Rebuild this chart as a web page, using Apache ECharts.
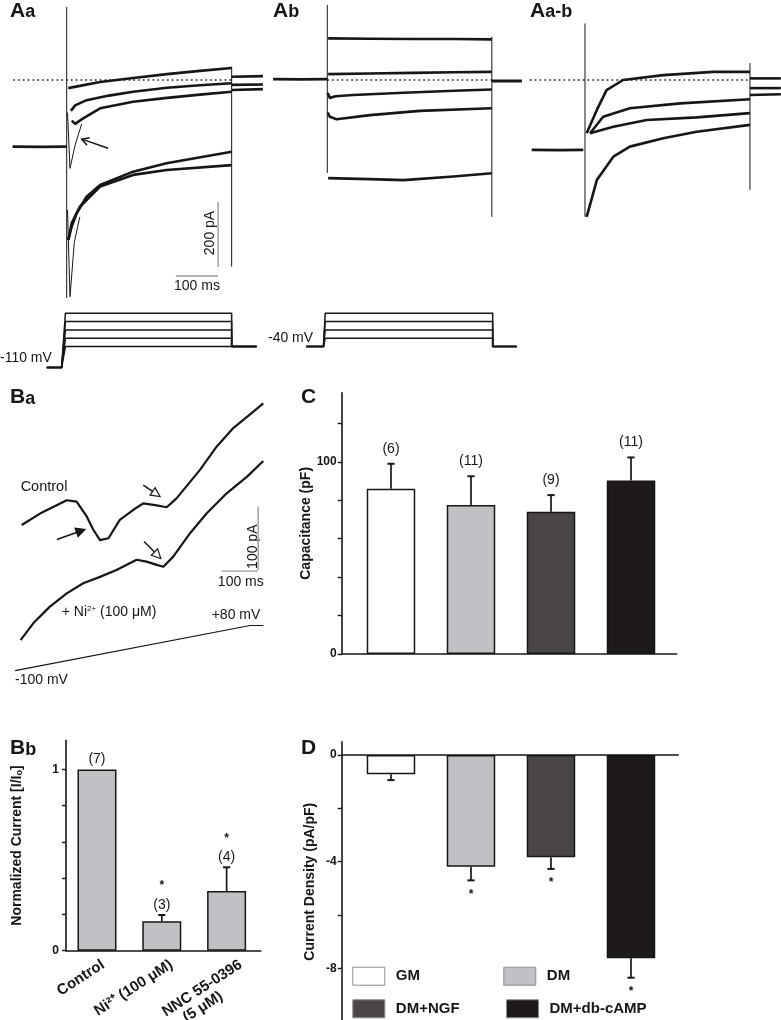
<!DOCTYPE html>
<html><head><meta charset="utf-8">
<script src="https://cdn.jsdelivr.net/npm/echarts@6.0.0/dist/echarts.min.js"></script>
<style>html,body{margin:0;padding:0;background:#fff}#c{width:781px;height:1020px}</style>
</head><body><div id="c"></div>
<script>
// ---------------- DATA ----------------
// Panel Aa: time (ms from step onset), current (pA, 0 = dotted line)
const aaBaseline = [[-128,-205],[-60,-206],[0,-205]];
const aaTrace1 = [[3.8,-25],[31,-18],[79,-6],[157,6],[237,18],[315,28],[390,37]];
const aaTrace2 = [[10,-95],[20,-78],[47,-62],[100,-48],[157,-36],[237,-24],[315,-16],[390,-10]];
const aaTrace3 = [[12,-125],[20,-135],[39,-118],[79,-87],[157,-67],[237,-55],[315,-45],[390,-36]];
const aaTransient = [[2,-100],[7.8,-272],[20,-200],[35.5,-135]];
const aaTrace4 = [[3.8,-492],[12,-450],[23.6,-410],[47,-359],[79,-323],[157,-282],[236,-256],[390,-221]];
const aaTrace5 = [[3.8,-492],[12,-440],[31,-390],[79,-328],[157,-292],[236,-277],[390,-262]];
const aaDeep = [[2,-400],[7.8,-667],[18,-500],[31,-421]];
const aaOnSpike = [[0,225],[0,-671]];
const aaOffSpike = [[390,41],[390,-574]];
const aaTailA = [[390,10],[464,12]];
const aaTailB = [[390,-15],[464,-14]];
const aaTailC = [[390,-31],[464,-28]];
const aaZero = [[-126,0],[390,0]];
const aaScaleV = [[358,-375],[358,-575]];   // 200 pA
const aaScaleH = [[258,-603],[358,-603]];   // 100 ms
const aaArrows = [[98,-210,35.5,-182,0]];
// Aa protocol (mV)
const aaHold = -110;
const aaSteps = [-60,-40,-20,0,20];
const aaReturn = -60;
const aaProtoTimes = [-47,-12,-3,390,449];

// Panel Ab
const abBaseline = [[-128,3],[-60,2],[0,3]];
const abTrace1 = [[2,128],[100,127],[200,126],[300,126],[389,125]];
const abTrace2 = [[2,18],[100,20],[200,22],[300,24],[389,25]];
const abTrace3 = [[1,-40],[6,-55],[20,-50],[61,-46],[180,-39],[300,-33],[389,-29]];
const abTrace4 = [[1,-100],[6,-113],[22,-121],[101,-108],[219,-95],[389,-87]];
const abTrace5 = [[2,-302],[100,-305],[180,-308],[298,-297],[389,-287]];
const abOnSpike = [[0,231],[0,-286]];
const abOffSpike = [[389,133],[389,-421]];
const abTail = [[389,-3],[460,-3]];
const abZero = [[0,0],[389,0]];
// Ab protocol (mV)
const abHold = -40;
const abSteps = [-20,0,20,40];
const abProtoTimes = [-50,-9,-5,391,448];

// Panel Aa-b (difference)
const dfBaseline = [[-126,-215],[-60,-216],[-4,-215]];
const dfTrace1 = [[4,-164],[28,-92],[51,-31],[90,0],[185,15],[303,25],[390,25]];
const dfTrace2 = [[12,-164],[43,-113],[106,-87],[225,-72],[390,-59]];
const dfTrace3 = [[12,-164],[67,-144],[146,-123],[264,-115],[390,-102]];
const dfTrace4 = [[4,-421],[28,-308],[67,-236],[106,-205],[185,-179],[264,-159],[390,-138]];
const dfOnSpike = [[0,174],[0,-421]];
const dfOffSpike = [[390,52],[390,-338]];
const dfTailA = [[390,5],[463,5]];
const dfTailB = [[390,-25],[463,-25]];
const dfTailC = [[390,-46],[463,-44]];
const dfZero = [[-130,0],[390,0]];

// Panel Ba: time (ms), current (pA, arbitrary offset)
const baControl = [[32,271],[82,289],[155,310],[182,308],[210,284],[228,263],[246,247],[269,250],[300,279],[337,295],[364,305],[401,302],[428,299],[455,313],[519,358],[565,395],[610,424],[665,450],[692,463]];
const baNickel = [[29,89],[64,116],[109,142],[155,163],[200,179],[246,189],[291,200],[346,216],[373,213],[401,208],[419,205],[446,221],[492,258],[537,289],[592,321],[647,347],[692,372]];
const baRamp = [[14,-100],[656,80],[692,80]];   // mV
const baScaleV = [[678,300],[678,200]];   // 100 pA
const baScaleH = [[578,198],[678,198]];   // 100 ms
const baArrows = [[128,248,205,264,1],[364,334,410,316,2],[366,245,412,218,2]];

// Panel C / D groups
const groups = ['GM','DM','DM+NGF','DM+db-cAMP'];
const groupColors = ['#ffffff','#c1c1c5','#4a4648','#1e1a19'];
const capMean = [86, 77.5, 74, 90.3];
const capSem = [13, 15, 8.7, 12];
const capN = [6, 11, 9, 11];
const capTicks = [0,20,40,60,80,100,120];
const capLabels = [0,100];
const densMean = [-0.72, -4.19, -3.83, -7.62];
const densSem = [0.22, 0.51, 0.44, 0.73];
const densSig = [0, 1, 1, 1];
const densTicks = [-10,-8,-6,-4,-2,0];
const densLabels = [-8,-4,0];

// Panel Bb
const bbCats = ['Control','Ni\u00b2\u207a (100 \u03bcM)','NNC 55-0396\n(5 \u03bcM)        '];
const bbMean = [1.0, 0.162, 0.329];
const bbSem = [0, 0.035, 0.131];
const bbN = [7, 3, 4];
const bbSig = [0, 1, 1];
const bbTicks = [0,0.2,0.4,0.6,0.8,1];
const bbLabels = [0,1];

// ---------------- BUILD ----------------
const INK = '#161616';
const GREY = '#9a9a9a';
const FONT = '"Liberation Sans", Arial, Helvetica, sans-serif';

const grids = [
  {left:11.7, top:2, width:253.8, height:299},      //0 Aa
  {left:272.3, top:2, width:253.8, height:299},     //1 Ab
  {left:530, top:2, width:253.8, height:299},       //2 Aa-b
  {left:11.7, top:309.1, width:253.8, height:62.5}, //3 Aa protocol
  {left:272.3, top:309.1, width:253.8, height:41.67}, //4 Ab protocol
  {left:10, top:380, width:256.2, height:316.5},    //5 Ba
  {left:10, top:623, width:256.2, height:50.2},     //6 Ba ramp
  {left:341.7, top:392.7, width:335, height:261.3}, //7 C
  {left:66, top:740.4, width:194.7, height:210.3},  //8 Bb
  {left:341.7, top:741.7, width:336.6, height:280}  //9 D
].map(g => Object.assign(g, {containLabel:false, outerBoundsMode:'none'}));

const xAxes = [], yAxes = [];
function hidden(i, xr, yr) {
  xAxes.push({gridIndex:i, type:'value', min:xr[0], max:xr[1], show:false});
  yAxes.push({gridIndex:i, type:'value', min:yr[0], max:yr[1], show:false});
}
hidden(0, [-130,470], [-680,240]);
hidden(1, [-130,470], [-680,240]);
hidden(2, [-130,470], [-680,240]);
hidden(3, [-130,470], [-120,30]);
hidden(4, [-130,470], [-50,50]);
hidden(5, [0,700], [0,500]);
hidden(6, [0,700], [-110,90]);

const axLine = {show:true, onZero:false, lineStyle:{color:INK, width:1.6}};
const tickLab = {fontFamily:FONT, fontWeight:'bold', fontSize:12, color:INK};
const nameStyle = {fontFamily:FONT, fontWeight:'bold', fontSize:14, color:INK};

// C axes
xAxes.push({gridIndex:7, type:'value', min:-0.616, max:3.571, axisLine:axLine,
  axisTick:{show:false}, axisLabel:{show:false}, splitLine:{show:false}});
yAxes.push({gridIndex:7, type:'value', min:0, max:136, axisLine:axLine,
  axisTick:{show:true, customValues:capTicks, length:4, lineStyle:{color:INK, width:1.4}},
  axisLabel:Object.assign({show:true, customValues:capLabels, margin:5}, tickLab), splitLine:{show:false},
  name:'Capacitance (pF)', nameLocation:'middle', nameGap:28, nameTextStyle:nameStyle});
// Bb axes (labels anchored slightly right of each bar, as in the figure)
xAxes.push({gridIndex:8, type:'value', min:-0.478, max:2.526, axisLine:axLine,
  axisTick:{show:false}, splitLine:{show:false},
  axisLabel:{show:true, customValues:[0.03,1.08,2.15], formatter:v => bbCats[Math.round(v)], rotate:33, margin:6,
    verticalAlign:'top', align:'right',
    fontFamily:FONT, fontWeight:'bold', fontSize:15, color:INK, lineHeight:16}});
yAxes.push({gridIndex:8, type:'value', min:0, max:1.16, axisLine:axLine,
  axisTick:{show:true, customValues:bbTicks, length:4, lineStyle:{color:INK, width:1.4}},
  axisLabel:Object.assign({show:true, customValues:bbLabels, margin:7}, tickLab), splitLine:{show:false},
  name:'Normalized Current [I/I{sub|o}]', nameLocation:'middle', nameGap:42,
  nameTextStyle:Object.assign({rich:{sub:{fontFamily:FONT, fontWeight:'bold', fontSize:9, color:INK, verticalAlign:'bottom'}}}, nameStyle)});
// D axes
xAxes.push({gridIndex:9, type:'value', min:-0.616, max:3.5915, axisLine:{show:true, onZero:true, lineStyle:{color:INK, width:1.6}},
  axisTick:{show:false}, axisLabel:{show:false}, splitLine:{show:false}});
yAxes.push({gridIndex:9, type:'value', min:-10, max:0.5, axisLine:axLine,
  axisTick:{show:true, customValues:densTicks, length:4, lineStyle:{color:INK, width:1.4}},
  axisLabel:Object.assign({show:true, customValues:densLabels, margin:5}, tickLab), splitLine:{show:false},
  name:'Current Density (pA/pF)', nameLocation:'middle', nameGap:25, nameTextStyle:nameStyle});

const series = [];
function line(grid, data, width, opts) {
  opts = opts || {};
  series.push({type:'line', xAxisIndex:grid, yAxisIndex:grid, data:data, symbol:'none', showSymbol:false,
    silent:true, animation:false, clip:false, z:opts.z || 3,
    lineStyle:Object.assign({color:opts.color || INK, width:width, cap:'butt', join:'round'}, opts.style || {})});
}
// Aa
line(0, aaBaseline, 2.8);
[aaTrace1, aaTrace2, aaTrace3, aaTrace4, aaTrace5].forEach(d => line(0, d, 2.6));
line(0, aaTransient, 1); line(0, aaDeep, 1);
line(0, aaOnSpike, 1); line(0, aaOffSpike, 1);
[aaTailA, aaTailB, aaTailC].forEach(d => line(0, d, 2.6));
line(0, aaZero, 1.6, {style:{type:[1.6,3.2]}});
line(0, aaScaleV, 1.4, {color:GREY}); line(0, aaScaleH, 1.4, {color:GREY});
// Ab
line(1, abBaseline, 2.8);
[abTrace1, abTrace2, abTrace3, abTrace4, abTrace5].forEach(d => line(1, d, 2.6));
line(1, abOnSpike, 1); line(1, abOffSpike, 1);
line(1, abTail, 2.8);
line(1, abZero, 1.6, {style:{type:[1.6,3.2]}});
// Aa-b
line(2, dfBaseline, 2.8);
[dfTrace1, dfTrace2, dfTrace3, dfTrace4].forEach(d => line(2, d, 2.6));
line(2, dfOnSpike, 1); line(2, dfOffSpike, 1);
[dfTailA, dfTailB, dfTailC].forEach(d => line(2, d, 2.6));
line(2, dfZero, 1.6, {style:{type:[1.6,3.2]}});
// Protocols
aaSteps.forEach(lv => line(3, [[aaProtoTimes[0],aaHold],[aaProtoTimes[1],aaHold],[aaProtoTimes[2],lv],[aaProtoTimes[3],lv],[aaProtoTimes[3],aaReturn],[aaProtoTimes[4],aaReturn]], 1.5));
abSteps.forEach(lv => line(4, [[abProtoTimes[0],abHold],[abProtoTimes[1],abHold],[abProtoTimes[2],lv],[abProtoTimes[3],lv],[abProtoTimes[3],abHold],[abProtoTimes[4],abHold]], 1.5));
// Ba
line(5, baControl, 2.2); line(5, baNickel, 2.2);
line(5, baScaleV, 1.4, {color:GREY}); line(5, baScaleH, 1.4, {color:GREY});
line(6, baRamp, 1.2);

// arrows
function arrows(grid, data) {
  series.push({type:'custom', xAxisIndex:grid, yAxisIndex:grid, data:data, silent:true, animation:false, clip:false, z:6,
    encode:{x:[0,2], y:[1,3]},
    renderItem:function(params, api) {
      const a = api.coord([api.value(0), api.value(1)]);
      const b = api.coord([api.value(2), api.value(3)]);
      const kind = api.value(4);
      const dx = b[0]-a[0], dy = b[1]-a[1], L = Math.hypot(dx, dy), ux = dx/L, uy = dy/L, px = -uy, py = ux;
      const hl = kind === 0 ? 7 : 9, hw = kind === 0 ? 4 : 4.5;
      const base = [b[0]-ux*hl, b[1]-uy*hl];
      const l = [base[0]+px*hw, base[1]+py*hw], r = [base[0]-px*hw, base[1]-py*hw];
      const ch = [];
      if (kind === 0) {
        ch.push({type:'line', shape:{x1:a[0], y1:a[1], x2:b[0], y2:b[1]}, style:{stroke:INK, lineWidth:1.5}});
        ch.push({type:'polyline', shape:{points:[l, b, r]}, style:{stroke:INK, lineWidth:1.5, fill:null}});
      } else {
        ch.push({type:'line', shape:{x1:a[0], y1:a[1], x2:base[0], y2:base[1]}, style:{stroke:INK, lineWidth:1.5}});
        ch.push({type:'polygon', shape:{points:[l, b, r]}, style:{stroke:INK, lineWidth:1.2, fill:kind === 1 ? INK : '#ffffff'}});
      }
      return {type:'group', children:ch};
    }});
}
arrows(0, aaArrows);
arrows(5, baArrows);

// bars
series.push({type:'bar', name:'Capacitance', xAxisIndex:7, yAxisIndex:7, barWidth:48.5, silent:true, animation:false,
  data: capMean.map((m, i) => ({value:[i, m], itemStyle:{color:groupColors[i]}})),
  itemStyle:{borderColor:INK, borderWidth:1.5}});
groups.forEach((g, i) => {
  series.push({type:'bar', name:g, xAxisIndex:9, yAxisIndex:9, barWidth:48.5, barGap:'-100%', silent:true, animation:false,
    data:[[i, densMean[i]]], itemStyle:{color:groupColors[i], borderColor:INK, borderWidth:1.5}});
});
series.push({type:'bar', name:'Normalized', xAxisIndex:8, yAxisIndex:8, barWidth:39, silent:true, animation:false,
  data: bbMean.map((m, i) => [i, m]), itemStyle:{color:'#c1c1c5', borderColor:INK, borderWidth:1.5}});

// error bars + annotations
function errors(grid, rows, opts) {
  series.push({type:'custom', xAxisIndex:grid, yAxisIndex:grid, data:rows, silent:true, animation:false, clip:false, z:6,
    renderItem:function(params, api) {
      const x = api.value(0), m = api.value(1), e = api.value(2), n = api.value(3), sig = api.value(4);
      const s = m >= 0 ? 1 : -1;
      const p0 = api.coord([x, m]), p1 = api.coord([x, m + s*e]);
      const ch = [];
      if (e > 0) {
        ch.push({type:'line', shape:{x1:p0[0], y1:p0[1], x2:p1[0], y2:p1[1]}, style:{stroke:INK, lineWidth:1.7}});
        ch.push({type:'line', shape:{x1:p1[0]-3.6, y1:p1[1], x2:p1[0]+3.6, y2:p1[1]}, style:{stroke:INK, lineWidth:2}});
      }
      if (opts.nGap) ch.push({type:'text', x:p1[0], y:p1[1]-s*opts.nGap,
        style:{text:'(' + n + ')', align:'center', verticalAlign:'middle', textAlign:'center', textVerticalAlign:'middle',
          fontFamily:FONT, fontSize:14, fill:INK}});
      if (sig) ch.push({type:'text', x:p1[0], y:p1[1]-s*opts.starGap + 3,
        style:{text:'*', align:'center', verticalAlign:'middle', textAlign:'center', textVerticalAlign:'middle',
          fontFamily:FONT, fontSize:12, fontWeight:'bold', fill:INK}});
      return {type:'group', children:ch};
    }});
}
errors(7, capMean.map((m, i) => [i, m, capSem[i], capN[i], 0]), {nGap:15});
errors(8, bbMean.map((m, i) => [i, m, bbSem[i], bbN[i], bbSig[i]]), {nGap:10, starGap:32});
errors(9, densMean.map((m, i) => [i, m, densSem[i], 0, densSig[i]]), {nGap:0, starGap:11});

// legends for D
const legBase = {orient:'horizontal', padding:0, itemWidth:32, itemHeight:18, icon:'rect', selectedMode:false,
  itemStyle:{borderColor:'#8c8c8c', borderWidth:1},
  textStyle:{fontFamily:FONT, fontWeight:'bold', fontSize:15, color:INK, padding:[0,0,0,6]}};
const legPos = [[352.3,966.7],[503.3,966.7],[352.3,999.3],[506,999.3]];
const legend = groups.map((g, i) => Object.assign({}, legBase, {data:[g], left:legPos[i][0], top:legPos[i][1]}));

// text
function txt(s, x, y, o) {
  o = o || {};
  return {type:'text', x:x, y:y, rotation:o.rot || 0, silent:true,
    style:{text:s, fill:INK, fontFamily:FONT, fontSize:o.size || 14, fontWeight:o.weight || 'normal',
      align:o.align || 'center', verticalAlign:'middle', textAlign:o.align || 'center', textVerticalAlign:'middle',
      rich:o.rich}};
}
const B = {weight:'bold', align:'left'};
const graphics = [
  txt('A', 10, 11, Object.assign({size:21}, B)), txt('a', 25.2, 12.1, Object.assign({size:18}, B)),
  txt('A', 273, 11, Object.assign({size:21}, B)), txt('b', 288.2, 12.1, Object.assign({size:18}, B)),
  txt('A', 530, 11, Object.assign({size:21}, B)), txt('a-b', 545.2, 12.1, Object.assign({size:18}, B)),
  txt('B', 10, 397.7, Object.assign({size:21}, B)), txt('a', 25.2, 398.8, Object.assign({size:18}, B)),
  txt('C', 301, 397.7, Object.assign({size:21}, B)),
  txt('B', 10, 748.7, Object.assign({size:21}, B)), txt('b', 25.2, 749.8, Object.assign({size:18}, B)),
  txt('D', 301, 748.7, Object.assign({size:21}, B)),
  txt('-110 mV', 0, 358, {align:'left'}),
  txt('-40 mV', 268, 338, {align:'left'}),
  txt('200 pA', 210, 233, {rot:Math.PI/2}),
  txt('100 ms', 197, 286),
  txt('Control', 44, 487, {size:14.5}),
  txt('+ Ni{sup|2+} (100 \u03bcM)', 61.7, 611.7, {align:'left', rich:{sup:{fontSize:8, fontFamily:FONT, fill:INK, verticalAlign:'top'}}}),
  txt('+80 mV', 236, 615),
  txt('-100 mV', 15, 680, {align:'left'}),
  txt('100 pA', 253, 546.7, {rot:Math.PI/2}),
  txt('100 ms', 240.8, 581.7)
];

const chart = echarts.init(document.getElementById('c'), null, {renderer:'canvas', width:781, height:1020});
chart.setOption({
  animation:false,
  backgroundColor:'#ffffff',
  textStyle:{fontFamily:FONT},
  grid:grids, xAxis:xAxes, yAxis:yAxes, series:series, legend:legend,
  graphic:{elements:graphics}
});
</script></body></html>
